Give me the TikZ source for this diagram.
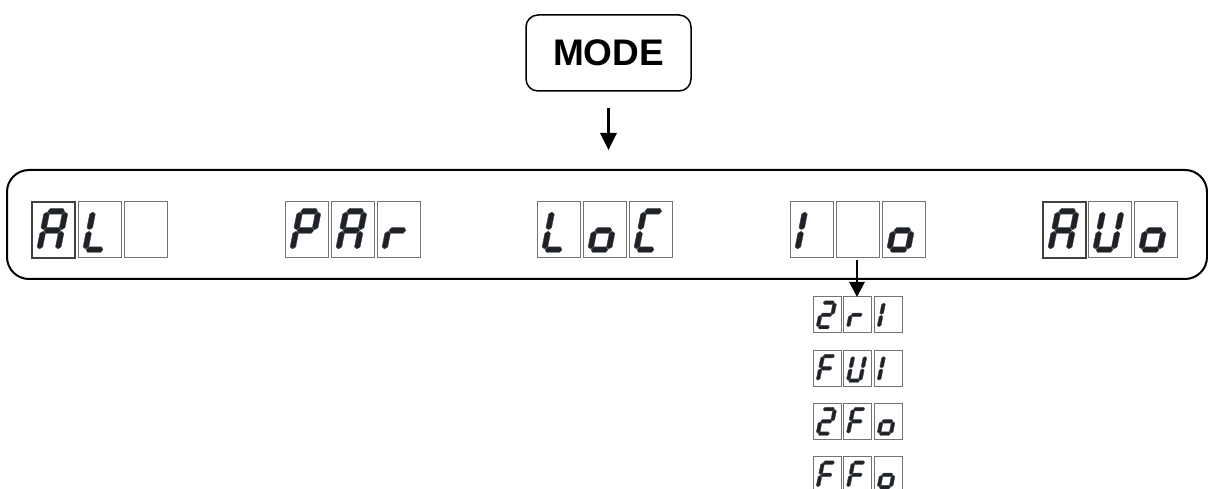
\documentclass[tikz,border=0pt]{standalone}
\usepackage{fontspec}
\setmainfont{Liberation Sans}
\usetikzlibrary{arrows.meta}
\definecolor{segc}{RGB}{30,34,38}
\definecolor{segedge}{RGB}{70,75,80}
\definecolor{cellc}{RGB}{115,115,115}
\definecolor{celldark}{RGB}{65,65,65}
\tikzset{
  seg/.style={fill=segc, draw=segedge, line width=0.4pt, line join=round},
  cellbox/.style={draw=cellc, line width=1pt},
  cellboxA/.style={draw=celldark, line width=1.5pt},
  small/.style={xscale=0.655, yscale=0.64},
  big/.style={},
  arr/.style={line width=2.8pt, -{Triangle[width=16pt,length=17pt]}, shorten >=0pt},
  modebox/.style={draw, line width=1.5pt, rounded corners=12pt, minimum width=165pt, minimum height=76pt, inner sep=0pt, outer sep=0pt, font=\fontsize{37}{40}\selectfont\bfseries},
  panelbox/.style={draw, line width=2pt, rounded corners=22pt, minimum width=1200pt, minimum height=109pt, inner sep=0pt, outer sep=0pt},
}
\def\sg{0.8}
\def\st{2.8}
\def\sp{2.0}
\newcommand\hseg[3]{\path[seg] ({#2+\sg},#1) -- ({#2+\sg+\sp},{#1+\st}) -- ({#3-\sg-\sp},{#1+\st}) -- ({#3-\sg},#1) -- ({#3-\sg-\sp},{#1-\st}) -- ({#2+\sg+\sp},{#1-\st}) -- cycle;}
\newcommand\vseg[3]{\path[seg] (#1,{#2+\sg}) -- ({#1+\st},{#2+\sg+\sp}) -- ({#1+\st},{#3-\sg-\sp}) -- (#1,{#3-\sg}) -- ({#1-\st},{#3-\sg-\sp}) -- ({#1-\st},{#2+\sg+\sp}) -- cycle;}
\def\SEGa{\hseg{41.2}{2.8}{21.2}}
\def\SEGg{\hseg{22}{2.8}{21.2}}
\def\SEGd{\hseg{2.8}{2.8}{21.2}}
\def\SEGf{\vseg{2.8}{22}{41.2}}
\def\SEGe{\vseg{2.8}{2.8}{22}}
\def\SEGb{\vseg{21.2}{22}{41.2}}
\def\SEGc{\vseg{21.2}{2.8}{22}}
\newcommand\disp[5]{%
  \begin{scope}[shift={(#1,#2)}, yscale=-1, #3]
    \draw[#4] (0,0) rectangle (43,56);
    \begin{scope}[shift={(4,5.5)}, xslant=-0.2]
      \foreach \s in {#5} {\csname SEG\s\endcsname}
    \end{scope}
  \end{scope}}
\begin{document}
\begin{tikzpicture}[x=1pt, y=-1pt]
  \useasboundingbox (0,0) rectangle (1208,489);
  \clip (0,0) rectangle (1208,489);
  % MODE button
  \node[modebox] (mode) at (608.5,53) {MODE};
  % panel
  \node[panelbox] (panel) at (607,224.5) {};
  % arrow from MODE to panel
  \coordinate (m1) at ([yshift=-17pt]mode.south);
  \coordinate (m2) at ([yshift=20pt]mode.south |- panel.north);
  \draw[arr] (m1) -- (m2);
  % AL_
  \disp{32}{258}{big}{cellboxA}{a,b,c,e,f,g}
  \disp{78}{258}{big}{cellbox}{d,e,f}
  \disp{124}{258}{big}{cellbox}{}
  % PAr
  \disp{285}{258}{big}{cellbox}{a,b,e,f,g}
  \disp{331}{258}{big}{cellbox}{a,b,c,e,f,g}
  \disp{377}{258}{big}{cellbox}{e,g}
  % LoC
  \disp{537}{258}{big}{cellbox}{d,e,f}
  \disp{583}{258}{big}{cellbox}{c,d,e,g}
  \disp{629}{258}{big}{cellbox}{a,d,e,f}
  % I_o
  \disp{790}{258}{big}{cellbox}{e,f}
  \disp{836}{258}{big}{cellbox}{}
  \disp{882}{258}{big}{cellbox}{c,d,e,g}
  % AUo
  \disp{1043}{258}{big}{cellboxA}{a,b,c,e,f,g}
  \disp{1088}{258}{big}{cellbox}{b,c,d,e,f}
  \disp{1134}{258}{big}{cellbox}{c,d,e,g}
  % sub list
  \disp{813}{332.5}{small}{cellbox}{a,b,g,e,d}
  \disp{843.3}{332.5}{small}{cellbox}{e,g}
  \disp{874}{332.5}{small}{cellbox}{e,f}
  \disp{813}{386}{small}{cellbox}{a,e,f,g}
  \disp{843.3}{386}{small}{cellbox}{b,c,d,e,f}
  \disp{874}{386}{small}{cellbox}{e,f}
  \disp{813}{439}{small}{cellbox}{a,b,g,e,d}
  \disp{843.3}{439}{small}{cellbox}{a,e,f,g}
  \disp{874}{439}{small}{cellbox}{c,d,e,g}
  \disp{813}{492.5}{small}{cellbox}{a,e,f,g}
  \disp{843.3}{492.5}{small}{cellbox}{a,e,f,g}
  \disp{874}{492.5}{small}{cellbox}{c,d,e,g}
  % arrow from I_o middle cell to sub list
  \coordinate (io) at (857,260);
  \coordinate (sub) at (857,297);
  \draw[arr, -{Triangle[width=15pt,length=15pt]}] (io) -- (sub);
\end{tikzpicture}
\end{document}
